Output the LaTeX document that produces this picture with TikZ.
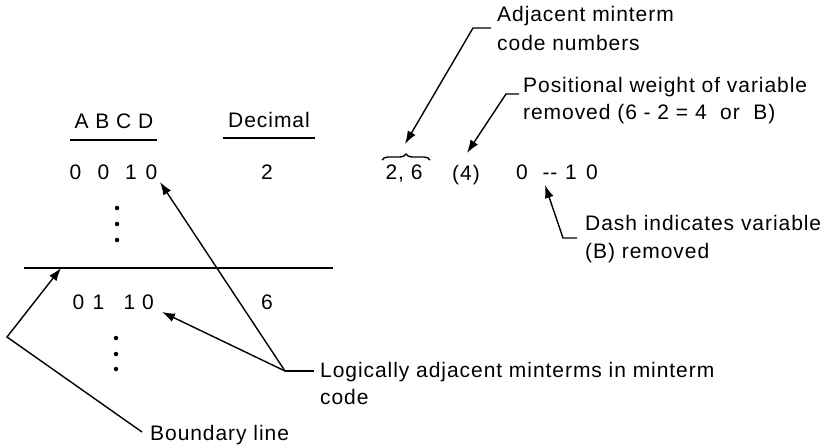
\documentclass[tikz,border=0pt]{standalone}
\usepackage{fontspec}
\setmainfont{Liberation Sans}[LetterSpace=4.5]
\usetikzlibrary{arrows.meta,decorations.pathreplacing}
\begin{document}
\begin{tikzpicture}[x=1pt,y=-1pt,
  txt/.style={inner sep=0pt,anchor=base west,font=\fontsize{21}{24}\selectfont},
  ctxt/.style={inner sep=0pt,anchor=base,font=\fontsize{21}{24}\selectfont},
  ln/.style={line width=1.4pt},
  arr/.style={line width=1.4pt,-{Latex[length=13pt,width=9pt]}},
  dot/.style={circle,fill=black,inner sep=0pt,minimum size=4.5pt}]
\useasboundingbox (0,0) rectangle (833,447);
% headers
\node[ctxt] (abcd) at (114,128) {A B C D};
\draw[ln] (70,140) -- (157,140);
\node[ctxt] (dec) at (269,127) {Decimal};
\draw[ln] (223,138) -- (315,138);
% row 0010
\node[ctxt] (r1a) at (75.5,179) {0};
\node[ctxt] (r1b) at (103.5,179) {0};
\node[ctxt] (r1c) at (131,179) {1};
\node[ctxt] (r1d) at (151.5,179) {0};
\node[ctxt] (two) at (267,179) {2};
\node[dot] (d1) at (117,208) {};
\node[dot] (d2) at (117,224) {};
\node[dot] (d3) at (117,240) {};
% boundary
\coordinate (bl) at (24,268);
\coordinate (br) at (333,268);
\draw[ln] (bl) -- (br);
% row 0110
\node[ctxt] (r2a) at (78.5,309) {0};
\node[ctxt] (r2b) at (98.5,309) {1};
\node[ctxt] (r2c) at (129.5,309) {1};
\node[ctxt] (r2d) at (148,309) {0};
\node[ctxt] (six) at (267,309) {6};
\node[dot] (d4) at (116,338) {};
\node[dot] (d5) at (116,354) {};
\node[dot] (d6) at (116,369) {};
% right row
\node[ctxt] (pair) at (404,179) {2, 6};
\draw[ln,decorate,decoration={brace,amplitude=6pt}] (382,160) -- (430,160);
\node[ctxt] (four) at (466,180) {(4)};
\node[ctxt] (z0) at (522,179) {0};
\node[ctxt] (dash) at (550,179) {-\kern1pt-};
\node[ctxt] (z1) at (571,179) {1};
\node[ctxt] (z2) at (592,179) {0};
% labels
\node[txt] (adj1) at (497,21) {Adjacent minterm};
\node[txt] (adj2) at (497,50) {code numbers};
\node[txt] (pos1) at (523,92) {Positional weight of variable};
\node[txt] (pos2) at (523,119) {removed (6 - 2 = 4 \ or \ B)};
\node[txt] (dsh1) at (585,230) {Dash indicates variable};
\node[txt] (dsh2) at (585,258) {(B) removed};
\node[txt] (log1) at (320,377) {Logically adjacent minterms in minterm};
\node[txt] (log2) at (320,404) {code};
\node[txt] (bnd) at (150,440) {Boundary line};
% leader points
\coordinate (tAdj) at (405,144);
\coordinate (cAdj) at (473,28);
\coordinate (hAdj) at (491,28);
\coordinate (tPos) at (467,153);
\coordinate (cPos) at (506,94);
\coordinate (hPos) at (519,94);
\coordinate (tDash) at (545,185);
\coordinate (cDash) at (563,238);
\coordinate (hDash) at (577,238);
\coordinate (tR1) at (160,182);
\coordinate (tR2) at (162,312);
\coordinate (cLog) at (285,371);
\coordinate (hLog) at (314,371);
\coordinate (tB) at (61,268);
\coordinate (cB) at (7,337);
\coordinate (hB) at (142,432);
% connectors
\draw[arr] (hAdj) -- (cAdj) -- (tAdj);
\draw[arr] (hPos) -- (cPos) -- (tPos);
\draw[arr] (hDash) -- (cDash) -- (tDash);
\draw[ln] (hLog) -- (cLog);
\draw[arr] (cLog) -- (tR1);
\draw[arr] (cLog) -- (tR2);
\draw[arr] (hB) -- (cB) -- (tB);
\end{tikzpicture}
\end{document}
